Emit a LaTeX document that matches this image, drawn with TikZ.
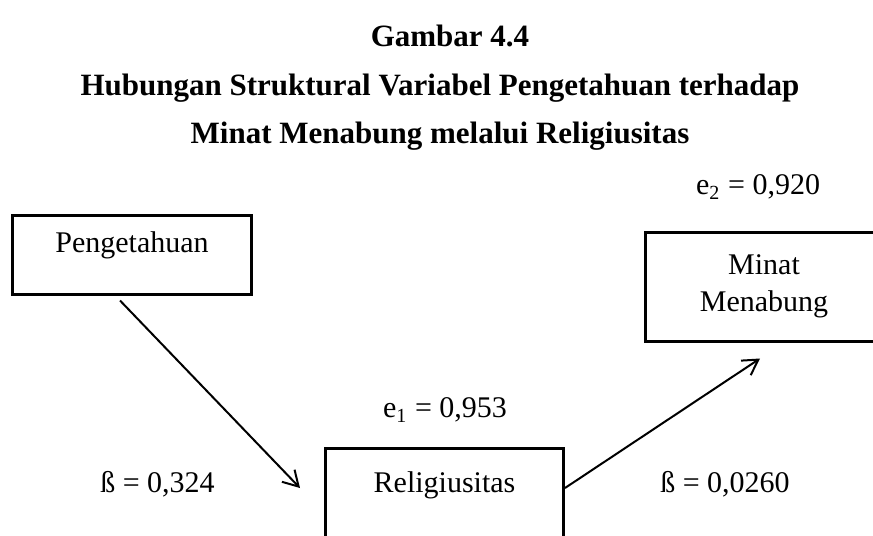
\documentclass[tikz,border=0pt]{standalone}
\usepackage{fontspec}
\setmainfont{Liberation Serif}
\usepackage{tikz}
\usetikzlibrary{arrows.meta}
\tikzset{
  varbox/.style={draw,line width=1.2pt,minimum width=95.2pt,inner xsep=0pt,inner ysep=0pt,font=\fontsize{12}{15}\selectfont},
  coef/.style={font=\fontsize{12}{14}\selectfont},
  ttl/.style={font=\fontsize{12.4}{15}\selectfont\bfseries},
  path/.style={line width=0.8pt,-{Straight Barb[length=6pt,width=7pt,line width=0.8pt]}}
}
\begin{document}
\begin{tikzpicture}[x=0.4pt,y=-0.4pt]
  \useasboundingbox (0,0) rectangle (873,535);
  \clip (0,0) rectangle (873,535);
  % title
  \node[ttl] (t1) at (450,36) {Gambar 4.4};
  \node[ttl] (t2) at (440,88) {Hubungan Struktural Variabel Pengetahuan terhadap};
  \node[ttl] (t3) at (440,136) {Minat Menabung melalui Religiusitas};
  % variables
  \node[varbox,text height=14.8pt,text depth=16.8pt] (peng) at (132,254.5) {Pengetahuan};
  \node[varbox,minimum height=43.6pt,align=center] (minat) at (764,286.5) {Minat\\Menabung};
  \node[varbox,text height=17.6pt,text depth=26pt] (relig) at (444.5,502.5) {Religiusitas};
  % residuals and coefficients
  \node[coef] (e2) at (758,187) {e\textsubscript{2} = 0,920};
  \node[coef] (e1) at (445,410) {e\textsubscript{1} = 0,953};
  \node[coef] (b1) at (157.5,484) {ß = 0,324};
  \node[coef] (b2) at (725,484) {ß = 0,0260};
  % paths
  \draw[path] ([shift={(-12,5)}]peng.south) -- ([shift={(-24,-14.5)}]relig.west);
  \draw[path] ([shift={(0,-14.5)}]relig.east) -- ([shift={(-4,16)}]minat.south);
\end{tikzpicture}
\end{document}
